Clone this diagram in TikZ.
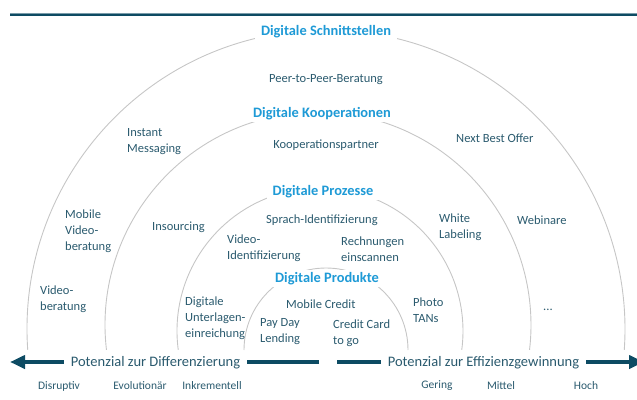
\documentclass[tikz,border=0pt]{standalone}
\usepackage{fontspec}
\setmainfont{Carlito}
\usetikzlibrary{arrows.meta}

\definecolor{ringblue}{HTML}{1E9AD6}
\definecolor{itemtext}{HTML}{2A5A6E}
\definecolor{axisteal}{HTML}{0D4B63}
\definecolor{ringgray}{HTML}{C6C6C6}

\tikzset{
  ring/.style={draw=ringgray, line width=0.9pt},
  ringtitle/.style={fill=white, text=ringblue, font=\fontsize{14.4}{17}\selectfont\bfseries, inner xsep=6pt, inner ysep=2pt, yshift=-1.5pt},
  item/.style={text=itemtext, font=\fontsize{12.5}{16}\selectfont, align=left, inner sep=0pt, anchor=west, yshift=-2pt},
  axislabel/.style={fill=white, text=itemtext, font=\fontsize{14.5}{17}\selectfont, inner xsep=7pt, inner ysep=3pt, yshift=-1pt},
  tick/.style={text=itemtext, font=\fontsize{11.5}{14}\selectfont, inner sep=0pt, yshift=-2pt},
  axisarrow/.style={draw=axisteal, line width=4pt, -{Triangle[length=15pt,width=13pt]}}
}

\begin{document}
\begin{tikzpicture}[x=1pt, y=-1pt]
  \useasboundingbox (0,0) rectangle (637,399);

  % rule along the top
  \draw[axisteal!55, line width=1pt] (10,13.5) -- (637,13.5);
  \draw[axisteal, line width=2pt] (10,15) -- (637,15);

  % the four rings
  \draw[ring] (326,329) ++(176:299) arc[start angle=176, end angle=364, radius=299];
  \draw[ring] (318,325) ++(173.3:213) arc[start angle=173.3, end angle=366.7, radius=213];
  \draw[ring] (320,331) ++(172.4:143) arc[start angle=172.4, end angle=367.6, radius=143];
  \draw[ring] (326,350) ++(180:82) arc[start angle=180, end angle=360, radius=82];

  \node[ringtitle] (schnitt) at (326,30) {Digitale Schnittstellen};
  \node[ringtitle] (koop) at (322,112) {Digitale Kooperationen};
  \node[ringtitle] (prozesse) at (323,190) {Digitale Prozesse};
  \node[ringtitle] (produkte) at (327,277) {Digitale Produkte};

  % outer ring
  \node[item, anchor=center] (peer) at (326,78) {Peer-to-Peer-Beratung};
  \node[item] (instant) at (127,139.5) {Instant\\Messaging};
  \node[item] (nbo) at (456,136) {Next Best Offer};
  \node[item] (mobvideo) at (65,229) {Mobile\\Video-\\beratung};
  \node[item] (webinare) at (517,218) {Webinare};
  \node[item] (videoberat) at (40,297) {Video-\\beratung};
  \node[item] (dots) at (543,308) {...};

  % second ring
  \node[item, anchor=center] (partner) at (326,143) {Kooperationspartner};
  \node[item] (insourcing) at (152,225) {Insourcing};
  \node[item] (whitelab) at (439,225.5) {White\\Labeling};
  \node[item] (unterlagen) at (185,316) {Digitale\\Unterlagen-\\einreichung};
  \node[item] (phototan) at (413,308) {Photo\\TANs};

  % third ring
  \node[item] (sprach) at (266,218) {Sprach-Identifizierung};
  \node[item] (videoid) at (227,246) {Video-\\Identifizierung};
  \node[item] (rechnung) at (341,247.5) {Rechnungen\\einscannen};

  % inner ring
  \node[item] (mobcredit) at (286,302) {Mobile Credit};
  \node[item] (payday) at (260,329.5) {Pay Day\\Lending};
  \node[item] (credcard) at (333,331.5) {Credit Card\\to go};

  % axes
  \coordinate (lstart) at (319,362);
  \coordinate (lend) at (10,362);
  \coordinate (rstart) at (337,362);
  \coordinate (rend) at (644,362);
  \draw[axisarrow] (lstart) -- (lend);
  \draw[axisarrow] (rstart) -- (rend);
  \node[axislabel] (diff) at (155.5,362) {Potenzial zur Differenzierung};
  \node[axislabel] (effiz) at (483.5,362) {Potenzial zur Effizienzgewinnung};

  \node[tick] (disrupt) at (59,384) {Disruptiv};
  \node[tick] (evol) at (140,384) {Evolutionär};
  \node[tick] (inkr) at (212,384) {Inkrementell};
  \node[tick] (gering) at (437,384) {Gering};
  \node[tick] (mittel) at (501,384) {Mittel};
  \node[tick] (hoch) at (586,384) {Hoch};
\end{tikzpicture}
\end{document}
